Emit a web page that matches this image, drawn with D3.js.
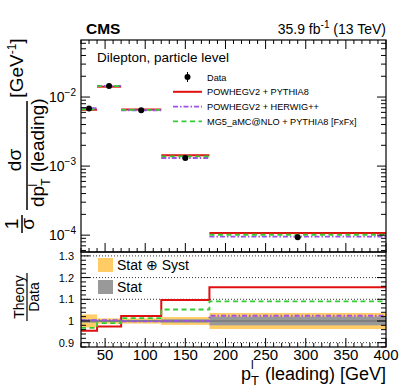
<!DOCTYPE html>
<html lang="en">
<head>
  <meta charset="UTF-8">
  <title>Leading lepton pT</title>
  <script src="https://d3js.org/d3.v7.min.js"></script>
  <style>
    body { margin: 0; background: #fff; }
    svg { font-family: "Liberation Sans", Arial, sans-serif; }
  </style>
</head>
<body>
<svg id="chart" width="407" height="391"></svg>
<script>
// bins in GeV
const binEdges = [20, 40, 70, 120, 180, 400];
const dataValues = [6.85e-3, 1.45e-2, 6.45e-3, 1.31e-3, 9.3e-5];
// theory / data
const ratioPythia = [0.955, 0.975, 1.023, 1.097, 1.155];
const ratioHerwig = [1.004, 1.004, 0.998, 1.0, 1.024];
const ratioMG5 = [0.968, 0.99, 1.013, 1.053, 1.09];
// uncertainty bands (half widths)
const statSyst = [0.03, 0.012, 0.012, 0.018, 0.037];
const statOnly = [0.008, 0.005, 0.005, 0.008, 0.02];
const logTickLabels = ["10", "10", "10"];
const logTickExps = [-2, -3, -4];
const ratioTicks = [0.9, 1, 1.1, 1.2, 1.3];
const xTicks = [50, 100, 150, 200, 250, 300, 350, 400];

const models = [
  { name: "POWHEGV2 + PYTHIA8", ratio: ratioPythia, color: "#e01010", dash: null, w: 2 },
  { name: "POWHEGV2 + HERWIG++", ratio: ratioHerwig, color: "#a050e8", dash: "5,2,1.5,2", w: 1.8 },
  { name: "MG5_aMC@NLO + PYTHIA8 [FxFx]", ratio: ratioMG5, color: "#33cc33", dash: "5,3.5", w: 1.8 }
];

const svg = d3.select("#chart");
const L = 81, R = 386, T = 40, MID = 252, B = 347;

const x = d3.scaleLinear().domain([20, 400]).range([L, R]);
const y = d3.scaleLog().domain([5.7e-5, 0.067]).range([MID, T]);
const yr = d3.scaleLinear().domain([0.88, 1.318]).range([B, MID]);

const bins = dataValues.map((v, i) => ({ lo: binEdges[i], hi: binEdges[i + 1], v, i }));

// ---------- upper panel ----------
const upper = svg.append("g");

models.forEach(m => {
  upper.selectAll(null).data(bins).enter().append("line")
    .attr("x1", d => x(d.lo)).attr("x2", d => x(d.hi))
    .attr("y1", d => y(d.v * m.ratio[d.i])).attr("y2", d => y(d.v * m.ratio[d.i]))
    .attr("stroke", m.color).attr("stroke-width", m.w)
    .attr("stroke-dasharray", m.dash);
});

upper.selectAll(null).data(bins).enter().append("circle")
  .attr("cx", d => x((d.lo + d.hi) / 2)).attr("cy", d => y(d.v))
  .attr("r", 3).attr("fill", "#000");

// log ticks
const logTicks = [];
for (let e = -5; e <= -1; e++) for (let k = 1; k <= 9; k++) {
  const v = k * Math.pow(10, e);
  if (v >= 5.7e-5 && v <= 0.067) logTicks.push({ v, major: k === 1 });
}
logTicks.forEach(t => {
  const len = t.major ? 9 : 5;
  upper.append("line").attr("x1", L).attr("x2", L + len).attr("y1", y(t.v)).attr("y2", y(t.v)).attr("stroke", "#000");
  upper.append("line").attr("x1", R).attr("x2", R - len).attr("y1", y(t.v)).attr("y2", y(t.v)).attr("stroke", "#000");
});
logTickExps.forEach((e, i) => {
  const t = upper.append("text").attr("x", 76).attr("y", y(Math.pow(10, e)) + 5)
    .attr("text-anchor", "end").attr("font-size", 14);
  t.append("tspan").text(logTickLabels[i]);
  t.append("tspan").attr("dy", -6).attr("font-size", 10).text("\u2212" + Math.abs(e));
});

// x ticks (upper panel, top and bottom)
d3.range(20, 401, 10).forEach(v => {
  const len = v % 50 === 0 ? 9 : 4;
  upper.append("line").attr("x1", x(v)).attr("x2", x(v)).attr("y1", T).attr("y2", T + len).attr("stroke", "#000");
  upper.append("line").attr("x1", x(v)).attr("x2", x(v)).attr("y1", MID).attr("y2", MID - len).attr("stroke", "#000");
});

upper.append("rect").attr("x", L).attr("y", T).attr("width", R - L).attr("height", MID - T)
  .attr("fill", "none").attr("stroke", "#000").attr("stroke-width", 1.2);

upper.append("text").attr("x", 97).attr("y", 62).attr("font-size", 13.5).text("Dilepton, particle level");

// legend
const lx = 173, lw = 29, ly0 = 77, ldy = 14.8;
const lg = svg.append("g").attr("font-size", 9.2);
lg.append("line").attr("x1", lx + lw / 2).attr("x2", lx + lw / 2).attr("y1", ly0 - 5).attr("y2", ly0 + 5).attr("stroke", "#000");
lg.append("circle").attr("cx", lx + lw / 2).attr("cy", ly0).attr("r", 3).attr("fill", "#000");
lg.append("text").attr("x", 207).attr("y", ly0 + 3.5).text("Data");
models.forEach((m, i) => {
  const yy = ly0 + ldy * (i + 1);
  lg.append("line").attr("x1", lx).attr("x2", lx + lw).attr("y1", yy).attr("y2", yy)
    .attr("stroke", m.color).attr("stroke-width", m.w).attr("stroke-dasharray", m.dash);
  lg.append("text").attr("x", 207).attr("y", yy + 3.5).text(m.name);
});

// header
svg.append("text").attr("x", 86).attr("y", 34).attr("font-size", 15.5).attr("font-weight", "bold").text("CMS");
const lumi = svg.append("text").attr("x", R).attr("y", 34).attr("text-anchor", "end").attr("font-size", 14);
lumi.append("tspan").text("35.9 fb");
lumi.append("tspan").attr("dy", -6).attr("font-size", 10).text("-1");
lumi.append("tspan").attr("dy", 6).text(" (13 TeV)");

// y title upper (rotated)
const yt = svg.append("g").attr("font-size", 19);
function rotText(cx, cy, parts, anchor) {
  const t = yt.append("text").attr("transform", `translate(${cx},${cy}) rotate(-90)`)
    .attr("text-anchor", anchor || "middle");
  parts.forEach(p => {
    const s = t.append("tspan").text(p.t);
    if (p.dy) s.attr("dy", p.dy);
    if (p.dx) s.attr("dx", p.dx);
    if (p.fs) s.attr("font-size", p.fs);
  });
  return t;
}
rotText(18, 224, [{ t: "1" }]);
rotText(34, 224, [{ t: "\u03c3" }]);
yt.append("line").attr("x1", 22).attr("x2", 22).attr("y1", 215).attr("y2", 233).attr("stroke", "#000").attr("stroke-width", 1.5);
rotText(21, 160, [{ t: "d\u03c3" }]);
rotText(44, 207, [{ t: "dp" }, { t: "T", dy: 6, fs: 12 }, { t: " (leading)", dy: -6, dx: 1 }], "start");
rotText(37, 186.5, [{ t: "l", fs: 12 }], "start");
yt.append("line").attr("x1", 27).attr("x2", 27).attr("y1", 101).attr("y2", 210).attr("stroke", "#000").attr("stroke-width", 1.5);
rotText(23, 68, [{ t: "[GeV" }, { t: "-1", dy: -7, fs: 12 }, { t: "]", dy: 7 }]);

// ---------- ratio panel ----------
const bot = svg.append("g");

bot.selectAll(null).data(bins).enter().append("rect")
  .attr("x", d => x(d.lo)).attr("width", d => x(d.hi) - x(d.lo))
  .attr("y", d => yr(1 + statSyst[d.i])).attr("height", d => yr(1 - statSyst[d.i]) - yr(1 + statSyst[d.i]))
  .attr("fill", "#ffcc66");
bot.selectAll(null).data(bins).enter().append("rect")
  .attr("x", d => x(d.lo)).attr("width", d => x(d.hi) - x(d.lo))
  .attr("y", d => yr(1 + statOnly[d.i])).attr("height", d => yr(1 - statOnly[d.i]) - yr(1 + statOnly[d.i]))
  .attr("fill", "#999999");
bot.append("line").attr("x1", L).attr("x2", R).attr("y1", yr(1)).attr("y2", yr(1)).attr("stroke", "#777").attr("stroke-width", 1.5);

ratioTicks.filter(v => v !== 1).forEach(v => {
  bot.append("line").attr("x1", L).attr("x2", R).attr("y1", yr(v)).attr("y2", yr(v))
    .attr("stroke", "#333").attr("stroke-dasharray", "1,2");
});

models.forEach(m => {
  const pts = [];
  bins.forEach(d => { pts.push([d.lo, m.ratio[d.i]]); pts.push([d.hi, m.ratio[d.i]]); });
  bot.append("path")
    .attr("d", d3.line().x(p => x(p[0])).y(p => yr(p[1]))(pts))
    .attr("fill", "none").attr("stroke", m.color).attr("stroke-width", m.w)
    .attr("stroke-dasharray", m.dash);
});

// ratio y ticks
d3.range(0.88, 1.3181, 0.02).forEach(v => {
  const major = Math.abs(Math.round(v * 10) - v * 10) < 1e-6;
  const len = major ? 9 : 5;
  bot.append("line").attr("x1", L).attr("x2", L + len).attr("y1", yr(v)).attr("y2", yr(v)).attr("stroke", "#000");
  bot.append("line").attr("x1", R).attr("x2", R - len).attr("y1", yr(v)).attr("y2", yr(v)).attr("stroke", "#000");
});
ratioTicks.forEach(v => {
  bot.append("text").attr("x", 74).attr("y", yr(v) + 4).attr("text-anchor", "end")
    .attr("font-size", 11).text(v === 1 ? "1" : d3.format(".1f")(v));
});

// ratio x ticks
d3.range(20, 401, 10).forEach(v => {
  const len = v % 50 === 0 ? 9 : 4;
  bot.append("line").attr("x1", x(v)).attr("x2", x(v)).attr("y1", B).attr("y2", B - len).attr("stroke", "#000");
});
xTicks.forEach(v => {
  bot.append("text").attr("x", x(v)).attr("y", 360).attr("text-anchor", "middle").attr("font-size", 15).text(v);
});

bot.append("rect").attr("x", L).attr("y", MID).attr("width", R - L).attr("height", B - MID)
  .attr("fill", "none").attr("stroke", "#000").attr("stroke-width", 1.2);

// ratio legend
bot.append("rect").attr("x", 98).attr("y", 258).attr("width", 15).attr("height", 14).attr("fill", "#ffcc66");
bot.append("text").attr("x", 117).attr("y", 270).attr("font-size", 14).text("Stat \u2295 Syst");
bot.append("rect").attr("x", 98).attr("y", 280).attr("width", 15).attr("height", 14).attr("fill", "#999999");
bot.append("text").attr("x", 117).attr("y", 292).attr("font-size", 14).text("Stat");

// ratio y title
const rt = svg.append("g").attr("font-size", 14);
rt.append("text").attr("transform", "translate(24,297) rotate(-90)").attr("text-anchor", "middle").text("Theory");
rt.append("line").attr("x1", 27).attr("x2", 27).attr("y1", 273).attr("y2", 321).attr("stroke", "#000").attr("stroke-width", 1.2);
rt.append("text").attr("transform", "translate(39,297) rotate(-90)").attr("text-anchor", "middle").text("Data");

// x title
const xt = svg.append("text").attr("x", R).attr("y", 379.5).attr("text-anchor", "end").attr("font-size", 18);
xt.append("tspan").text("p");
xt.append("tspan").attr("dy", 5).attr("font-size", 13).text("T");
xt.append("tspan").attr("dx", 1).attr("dy", -5).text(" (leading) [GeV]");
svg.append("text").attr("x", 251).attr("y", 369).attr("font-size", 12).text("l");
</script>
</body>
</html>
